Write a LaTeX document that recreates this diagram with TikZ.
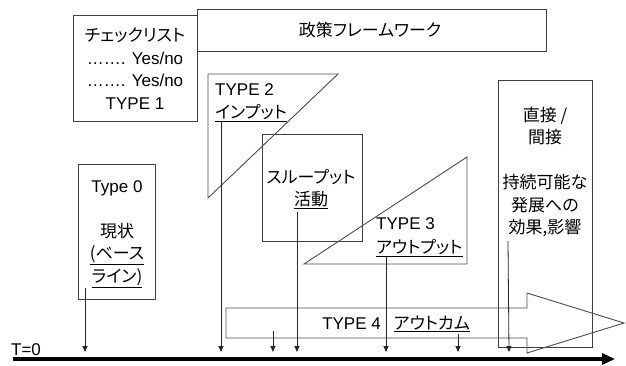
\documentclass[tikz,border=0pt]{standalone}
\usepackage{fontspec}
\setmainfont{Liberation Sans}
\newfontfamily\jp[RawFeature=+palt]{Noto Sans CJK JP}
\usetikzlibrary{arrows.meta}
\begin{document}
\begin{tikzpicture}[x=1pt,y=-1pt,
  box/.style={draw=black!75, line width=0.9pt, inner sep=0pt, outer sep=0pt, anchor=north west},
  shp/.style={draw=black!70, line width=0.9pt, line join=miter},
  lbl/.style={font=\fontsize{17}{22.5}\selectfont, inner sep=0pt, align=center},
  jlbl/.style={font=\fontsize{17}{22.5}\selectfont\jp, inner sep=0pt, align=center},
  tick/.style={draw=black!85, line width=0.8pt, -{Triangle[length=6pt,width=5pt]}},
  axisline/.style={line width=4pt, -{Triangle[length=13pt,width=11pt]}}
]
\useasboundingbox (0,0) rectangle (626,365);

% boxes
\node[box, minimum width=349pt, minimum height=42pt] (policy) at (197,9) {};
\node[box, minimum width=124pt, minimum height=106pt] (check) at (73,15) {};
\node[box, minimum width=77pt, minimum height=135pt] (base) at (78,164) {};
\node[box, minimum width=100pt, minimum height=107pt] (thru) at (262,134) {};
\node[box, minimum width=94pt, minimum height=267pt] (direct) at (498,80) {};

% triangles
\draw[shp] (208,74) -- (338,74) -- (208,198) -- cycle;
\draw[shp] (304,264) -- (467,157) -- (467,264) -- cycle;

% TYPE 4 arrow shape
\draw[shp] (226,308) -- (527,308) -- (527,293) -- (624,323) -- (527,353) -- (527,338) -- (226,338) -- cycle;

% texts
\node[lbl] (checkT) at (135,68.5) {{\jp チェックリスト}\\……. Yes/no\\……. Yes/no\\TYPE 1};
\node[jlbl] (policyT) at (370,30) {政策フレームワーク};
\node[lbl, align=left, anchor=north west] (in2) at (215,83.5) {TYPE 2\\\underline{\jp インプット}};
\node[jlbl] (thruT) at (311,189) {スループット\\\underline{活動}};
\node[lbl, align=left, anchor=north west] (out3) at (376,217.5) {TYPE 3\\[1.5pt]\underline{\jp アウトプット}};
\node[lbl] (baseT) at (117,234) {Type 0\\[22.5pt]{\jp 現状}\\\underline{\jp (ベース}\\\underline{\jp ライン)}};
\node[jlbl] (dirT) at (545,172) {直接 /\\間接\\[22.5pt]持続可能な\\発展への\\効果,影響};
\node[lbl] (t4) at (396,324) {TYPE 4\hspace{13pt}\underline{\jp アウトカム}};
\node[lbl] (t0) at (26,350) {T=0};

% time axis
\coordinate (axL) at (13,359);
\coordinate (axR) at (615,359);
\draw[axisline] (axL) -- (axR);
\coordinate (axTop) at (0,352);

% arrows to the axis
\coordinate (s0) at (85,288);
\coordinate (s2) at (221,121);
\coordinate (s4a) at (273,331);
\coordinate (sT) at (297,212);
\coordinate (s3) at (386,257);
\coordinate (s4b) at (458,334);
\coordinate (sD) at (508,241);
\coordinate (eD) at (509,352);
\draw[tick] (s0) -- (s0 |- axTop);
\draw[tick] (s2) -- (s2 |- axTop);
\draw[tick] (s4a) -- (s4a |- axTop);
\draw[tick] (sT) -- (sT |- axTop);
\draw[tick] (s3) -- (s3 |- axTop);
\draw[tick] (s4b) -- (s4b |- axTop);
\draw[tick] (sD) -- (eD);
\end{tikzpicture}
\end{document}
